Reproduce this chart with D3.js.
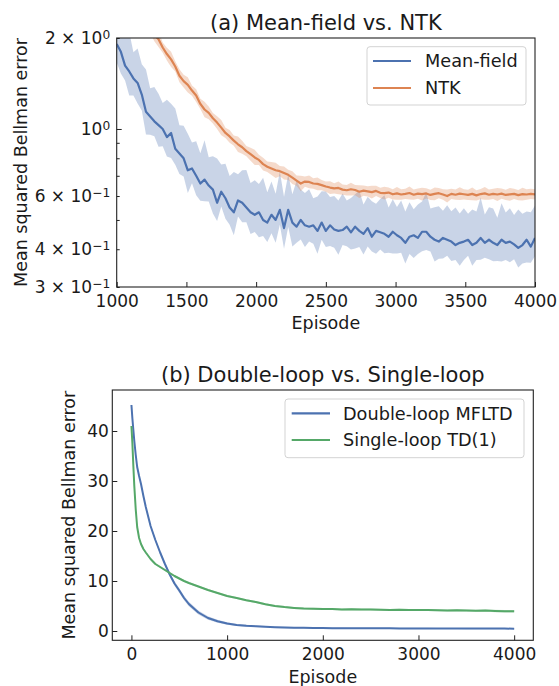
<!DOCTYPE html>
<html>
<head>
<meta charset="utf-8">
<script src="https://d3js.org/d3.v7.min.js"></script>
<style>
body { margin: 0; background: #fff; }
svg text { font-family: "DejaVu Sans", sans-serif; fill: #1a1a1a; }
</style>
</head>
<body>
<svg id="chart" width="559" height="686"></svg>
<script>
// ---------- panel (a): mean-field vs NTK, every 30 episodes ----------
var episodesA = [
 1000,1030,1060,1090,1120,1150,1180,1210,1240,1270,
 1300,1330,1360,1390,1420,1450,1480,1510,1540,1570,
 1600,1630,1660,1690,1720,1750,1780,1810,1840,1870,
 1900,1930,1960,1990,2020,2050,2080,2110,2140,2170,
 2200,2230,2260,2290,2320,2350,2380,2410,2440,2470,
 2500,2530,2560,2590,2620,2650,2680,2710,2740,2770,
 2800,2830,2860,2890,2920,2950,2980,3010,3040,3070,
 3100,3130,3160,3190,3220,3250,3280,3310,3340,3370,
 3400,3430,3460,3490,3520,3550,3580,3610,3640,3670,
 3700,3730,3760,3790,3820,3850,3880,3910,3940,3970,
 4000];
var meanField = [
 1.91,1.80,1.62,1.55,1.47,1.42,1.30,1.14,1.10,1.06,
 1.03,1.00,0.94,0.97,0.86,0.83,0.80,0.73,0.74,0.70,
 0.66,0.68,0.65,0.63,0.57,0.62,0.59,0.55,0.53,0.58,
 0.57,0.55,0.53,0.52,0.53,0.50,0.49,0.52,0.50,0.54,
 0.47,0.54,0.49,0.475,0.50,0.48,0.475,0.48,0.46,0.49,
 0.46,0.48,0.465,0.46,0.463,0.475,0.455,0.475,0.46,0.45,
 0.47,0.44,0.46,0.455,0.45,0.44,0.457,0.445,0.436,0.42,
 0.44,0.445,0.436,0.457,0.457,0.44,0.43,0.424,0.436,0.43,
 0.424,0.413,0.42,0.424,0.43,0.413,0.42,0.436,0.42,0.43,
 0.42,0.413,0.43,0.42,0.424,0.415,0.404,0.413,0.43,0.408,
 0.436];
// upper / lower band factors (multiplicative) for mean-field
var meanFieldUp = [
 1.25,1.30,1.28,1.35,1.22,1.30,1.26,1.38,1.24,1.30,
 1.27,1.22,1.33,1.25,1.36,1.24,1.28,1.32,1.22,1.30,
 1.26,1.35,1.24,1.29,1.40,1.23,1.30,1.27,1.36,1.22,
 1.28,1.33,1.25,1.30,1.24,1.38,1.26,1.29,1.22,1.34,
 1.27,1.31,1.24,1.42,1.26,1.28,1.33,1.23,1.30,1.27,
 1.35,1.24,1.29,1.26,1.32,1.22,1.30,1.28,1.36,1.25,
 1.27,1.31,1.23,1.29,1.34,1.25,1.28,1.24,1.33,1.27,
 1.30,1.22,1.29,1.26,1.35,1.24,1.28,1.31,1.23,1.30,
 1.26,1.33,1.25,1.29,1.22,1.31,1.27,1.36,1.24,1.28,
 1.30,1.23,1.32,1.26,1.29,1.25,1.34,1.27,1.24,1.30,
 1.28];
var meanFieldLo = [
 1.15,1.18,1.12,1.20,1.14,1.17,1.13,1.19,1.15,1.12,
 1.18,1.14,1.16,1.21,1.13,1.17,1.15,1.19,1.12,1.16,
 1.14,1.18,1.13,1.20,1.15,1.12,1.17,1.14,1.19,1.13,
 1.16,1.12,1.18,1.14,1.21,1.13,1.16,1.15,1.19,1.12,
 1.17,1.14,1.20,1.13,1.16,1.18,1.12,1.15,1.19,1.14,
 1.13,1.17,1.15,1.20,1.12,1.16,1.14,1.18,1.13,1.17,
 1.15,1.12,1.19,1.14,1.16,1.13,1.18,1.15,1.12,1.17,
 1.14,1.19,1.13,1.16,1.15,1.12,1.18,1.14,1.17,1.13,
 1.16,1.12,1.19,1.15,1.13,1.17,1.14,1.18,1.12,1.16,
 1.15,1.13,1.18,1.14,1.17,1.12,1.16,1.15,1.19,1.13,
 1.15];
var ntk = [
 3.30,3.10,2.95,2.80,2.65,2.50,2.38,2.25,2.15,2.05,
 1.98,1.86,1.77,1.70,1.61,1.50,1.44,1.40,1.34,1.29,
 1.21,1.16,1.13,1.085,1.05,1.01,0.97,0.945,0.915,0.89,
 0.87,0.845,0.825,0.805,0.79,0.765,0.75,0.74,0.73,0.725,
 0.715,0.705,0.69,0.675,0.66,0.67,0.668,0.66,0.658,0.652,
 0.645,0.64,0.636,0.638,0.63,0.627,0.632,0.628,0.62,0.625,
 0.622,0.618,0.624,0.615,0.613,0.616,0.608,0.612,0.607,0.61,
 0.614,0.606,0.611,0.609,0.612,0.605,0.61,0.613,0.607,0.60,
 0.61,0.606,0.611,0.608,0.605,0.61,0.603,0.609,0.612,0.606,
 0.61,0.607,0.611,0.605,0.608,0.61,0.604,0.609,0.607,0.61,
 0.608];
var ntkBand = [
 1.05,1.06,1.04,1.05,1.06,1.04,1.05,1.06,1.04,1.05,
 1.06,1.04,1.05,1.06,1.04,1.05,1.05,1.06,1.04,1.05,
 1.04,1.06,1.05,1.04,1.05,1.06,1.04,1.05,1.04,1.06,
 1.05,1.04,1.05,1.06,1.04,1.05,1.04,1.05,1.06,1.04,
 1.05,1.04,1.05,1.04,1.06,1.04,1.05,1.04,1.05,1.04,
 1.04,1.05,1.04,1.05,1.04,1.04,1.05,1.04,1.05,1.04,
 1.04,1.05,1.04,1.04,1.05,1.04,1.04,1.05,1.04,1.04,
 1.05,1.04,1.04,1.05,1.04,1.04,1.05,1.04,1.04,1.05,
 1.04,1.04,1.05,1.04,1.04,1.05,1.04,1.04,1.05,1.04,
 1.04,1.05,1.04,1.04,1.05,1.04,1.04,1.05,1.04,1.04,
 1.04];
var xTicksA = [1000,1500,2000,2500,3000,3500,4000];
var yTicksA = [0.3,0.4,0.6,1,2];
var yMantA = ["3 × ","4 × ","6 × ","","2 × "];
var yExpA = ["−1","−1","−1","0","0"];
var yMinorA = [0.5,0.7,0.8,0.9];

// ---------- panel (b): double-loop vs single-loop ----------
var episodesB = [0,10,20,30,45,60,80,100,125,150,200,250,300,350,400,450,500,550,600,
 700,800,900,1000,1100,1200,1300,1400,1500,1600,1700,1800,1900,
 2000,2100,2200,2300,2400,2500,2600,2700,2800,2900,3000,3100,3200,3300,3400,3500,3600,3700,3800,3900,4000];
var doubleLoop = [45.2,42.5,40.2,38.0,35.2,32.8,31.0,29.4,27.0,24.8,21.0,18.2,15.7,13.4,11.3,9.5,8.1,6.6,5.4,
 3.7,2.6,1.95,1.5,1.22,1.05,0.94,0.85,0.77,0.71,0.67,0.63,0.60,
 0.58,0.57,0.56,0.55,0.55,0.54,0.53,0.53,0.52,0.52,0.51,0.51,0.50,0.50,0.50,0.49,0.49,0.48,0.48,0.48,0.47];
var doubleSpread = [0.2,0.2,0.2,0.2,0.2,0.2,0.2,0.2,0.2,0.2,0.25,0.3,0.3,0.35,0.4,0.45,0.45,0.45,0.45,
 0.4,0.35,0.3,0.25,0.2,0.2,0.15,0.15,0.15,0.15,0.15,0.12,0.12,
 0.12,0.12,0.12,0.12,0.12,0.12,0.12,0.12,0.12,0.12,0.12,0.12,0.12,0.12,0.12,0.12,0.12,0.12,0.12,0.12,0.12];
var singleLoop = [41.0,37.5,33.0,29.0,24.3,20.8,18.6,17.4,16.4,15.7,14.4,13.4,12.8,12.2,11.6,11.0,10.5,10.0,9.6,
 8.9,8.2,7.6,7.0,6.6,6.15,5.8,5.35,5.0,4.78,4.62,4.5,4.46,
 4.4,4.38,4.32,4.35,4.28,4.3,4.25,4.22,4.26,4.2,4.18,4.21,4.15,4.12,4.16,4.1,4.06,4.09,4.02,3.97,3.93];
var singleSpread = [0.2,0.2,0.2,0.2,0.2,0.2,0.2,0.2,0.2,0.2,0.2,0.2,0.2,0.2,0.2,0.2,0.2,0.2,0.2,
 0.2,0.2,0.2,0.2,0.2,0.2,0.2,0.2,0.2,0.2,0.2,0.2,0.2,
 0.2,0.2,0.2,0.2,0.2,0.2,0.2,0.2,0.2,0.2,0.2,0.2,0.2,0.2,0.2,0.2,0.2,0.2,0.25,0.25,0.25];
var xTicksB = [0,1000,2000,3000,4000];
var yTicksB = [0,10,20,30,40];

var blue = "#4c72b0", orange = "#dd8452", green = "#55a868";
var svg = d3.select("#chart");

function styleAxis(g, size) {
  g.attr("font-size", size).attr("color", "#222");
  g.select(".domain").remove();
  g.selectAll(".tick line").attr("stroke-width", 1);
}

// ================= panel (a) =================
var A = {left: 116.7, right: 535, top: 38, bottom: 287};
var xa = d3.scaleLinear().domain([1000, 4000]).range([A.left, A.right]);
var ya = d3.scaleLog().domain([0.3, 2]).range([A.bottom, A.top]);

svg.append("clipPath").attr("id", "clipA").append("rect")
  .attr("x", A.left).attr("y", A.top).attr("width", A.right - A.left).attr("height", A.bottom - A.top);
var pa = svg.append("g").attr("clip-path", "url(#clipA)");

var idxA = d3.range(episodesA.length);
pa.append("path").datum(idxA)
  .attr("fill", blue).attr("fill-opacity", 0.3)
  .attr("d", d3.area().x(function(i){return xa(episodesA[i]);})
    .y0(function(i){return ya(meanField[i] / meanFieldLo[i]);})
    .y1(function(i){return ya(meanField[i] * meanFieldUp[i]);}));
pa.append("path").datum(idxA)
  .attr("fill", orange).attr("fill-opacity", 0.3)
  .attr("d", d3.area().x(function(i){return xa(episodesA[i]);})
    .y0(function(i){return ya(ntk[i] / ntkBand[i]);})
    .y1(function(i){return ya(ntk[i] * ntkBand[i]);}));
pa.append("path").datum(idxA)
  .attr("fill", "none").attr("stroke", blue).attr("stroke-width", 2.2).attr("stroke-linejoin", "round")
  .attr("d", d3.line().x(function(i){return xa(episodesA[i]);}).y(function(i){return ya(meanField[i]);}));
pa.append("path").datum(idxA)
  .attr("fill", "none").attr("stroke", orange).attr("stroke-width", 2.2).attr("stroke-linejoin", "round")
  .attr("d", d3.line().x(function(i){return xa(episodesA[i]);}).y(function(i){return ya(ntk[i]);}));

svg.append("g").attr("transform", "translate(0," + A.bottom + ")")
  .call(d3.axisBottom(xa).tickValues(xTicksA).tickSize(-5).tickPadding(7.6).tickFormat(d3.format("d")))
  .call(styleAxis, 17);

var yAxA = svg.append("g").attr("transform", "translate(" + A.left + ",0)")
  .call(d3.axisLeft(ya).tickValues(yTicksA).tickSize(-3).tickPadding(6.5).tickFormat(""))
  .call(styleAxis, 17);
yAxA.selectAll(".tick").each(function(d, i) {
  var t = d3.select(this);
  if (d === 1) t.select("line").attr("x2", 5);
  var txt = t.select("text").text(null);
  txt.append("tspan").text(yMantA[i] + "10");
  txt.append("tspan").attr("dy", "-0.42em").attr("font-size", "0.72em").text(yExpA[i]);
});
svg.append("g").attr("transform", "translate(" + A.left + ",0)")
  .call(d3.axisLeft(ya).tickValues(yMinorA).tickSize(-3).tickFormat(""))
  .call(styleAxis, 17);

svg.append("rect").attr("x", A.left).attr("y", A.top)
  .attr("width", A.right - A.left).attr("height", A.bottom - A.top)
  .attr("fill", "none").attr("stroke", "#222").attr("stroke-width", 1.1);

svg.append("text").attr("x", (A.left + A.right) / 2).attr("y", 29.5)
  .attr("text-anchor", "middle").attr("font-size", 21).text("(a) Mean-field vs. NTK");
svg.append("text").attr("x", (A.left + A.right) / 2).attr("y", 329.3)
  .attr("text-anchor", "middle").attr("font-size", 17.5).text("Episode");
svg.append("text").attr("transform", "translate(26.7," + (A.top + A.bottom) / 2 + ") rotate(-90)")
  .attr("text-anchor", "middle").attr("font-size", 17.5).text("Mean squared Bellman error");

// legend (a)
var legA = svg.append("g");
legA.append("rect").attr("x", 367).attr("y", 46.7).attr("width", 159).attr("height", 58.3)
  .attr("rx", 3).attr("fill", "#fff").attr("fill-opacity", 0.8).attr("stroke", "#d3d3d3");
[["Mean-field", blue, 61], ["NTK", orange, 88]].forEach(function(e) {
  legA.append("line").attr("x1", 373).attr("x2", 411).attr("y1", e[2]).attr("y2", e[2])
    .attr("stroke", e[1]).attr("stroke-width", 2.2);
  legA.append("text").attr("x", 425).attr("y", e[2] + 6.3).attr("font-size", 17.7).text(e[0]);
});

// ================= panel (b) =================
var B = {left: 112.3, right: 533.3, top: 390, bottom: 640.3};
var xb = d3.scaleLinear().domain([-200, 4200]).range([B.left, B.right]);
var yb = d3.scaleLinear().domain([-1.86, 48.2]).range([B.bottom, B.top]);
var idxB = d3.range(episodesB.length);

svg.append("path").datum(idxB)
  .attr("fill", blue).attr("fill-opacity", 0.3)
  .attr("d", d3.area().x(function(i){return xb(episodesB[i]);})
    .y0(function(i){return yb(doubleLoop[i] - doubleSpread[i]);})
    .y1(function(i){return yb(doubleLoop[i] + doubleSpread[i]);}));
svg.append("path").datum(idxB)
  .attr("fill", green).attr("fill-opacity", 0.3)
  .attr("d", d3.area().x(function(i){return xb(episodesB[i]);})
    .y0(function(i){return yb(singleLoop[i] - singleSpread[i]);})
    .y1(function(i){return yb(singleLoop[i] + singleSpread[i]);}));
svg.append("path").datum(idxB)
  .attr("fill", "none").attr("stroke", blue).attr("stroke-width", 2).attr("stroke-linejoin", "round")
  .attr("d", d3.line().x(function(i){return xb(episodesB[i]);}).y(function(i){return yb(doubleLoop[i]);}));
svg.append("path").datum(idxB)
  .attr("fill", "none").attr("stroke", green).attr("stroke-width", 2).attr("stroke-linejoin", "round")
  .attr("d", d3.line().x(function(i){return xb(episodesB[i]);}).y(function(i){return yb(singleLoop[i]);}));

svg.append("g").attr("transform", "translate(0," + B.bottom + ")")
  .call(d3.axisBottom(xb).tickValues(xTicksB).tickSize(-5).tickPadding(7.6).tickFormat(d3.format("d")))
  .call(styleAxis, 17);
svg.append("g").attr("transform", "translate(" + B.left + ",0)")
  .call(d3.axisLeft(yb).tickValues(yTicksB).tickSize(-5).tickPadding(3.5).tickFormat(d3.format("d")))
  .call(styleAxis, 17);

svg.append("rect").attr("x", B.left).attr("y", B.top)
  .attr("width", B.right - B.left).attr("height", B.bottom - B.top)
  .attr("fill", "none").attr("stroke", "#222").attr("stroke-width", 1.1);

svg.append("text").attr("x", (B.left + B.right) / 2).attr("y", 381.5)
  .attr("text-anchor", "middle").attr("font-size", 21).text("(b) Double-loop vs. Single-loop");
svg.append("text").attr("x", (B.left + B.right) / 2).attr("y", 683.3)
  .attr("text-anchor", "middle").attr("font-size", 17.5).text("Episode");
svg.append("text").attr("transform", "translate(75," + (B.top + B.bottom) / 2 + ") rotate(-90)")
  .attr("text-anchor", "middle").attr("font-size", 17.5).text("Mean squared Bellman error");

var legB = svg.append("g");
legB.append("rect").attr("x", 285).attr("y", 399).attr("width", 239).attr("height", 58.7)
  .attr("rx", 3).attr("fill", "#fff").attr("fill-opacity", 0.8).attr("stroke", "#d3d3d3");
[["Double-loop MFLTD", blue, 413.3], ["Single-loop TD(1)", green, 440]].forEach(function(e) {
  legB.append("line").attr("x1", 291.7).attr("x2", 330).attr("y1", e[2]).attr("y2", e[2])
    .attr("stroke", e[1]).attr("stroke-width", 2.2);
  legB.append("text").attr("x", 343).attr("y", e[2] + 6.3).attr("font-size", 17.7).text(e[0]);
});
</script>
</body>
</html>
